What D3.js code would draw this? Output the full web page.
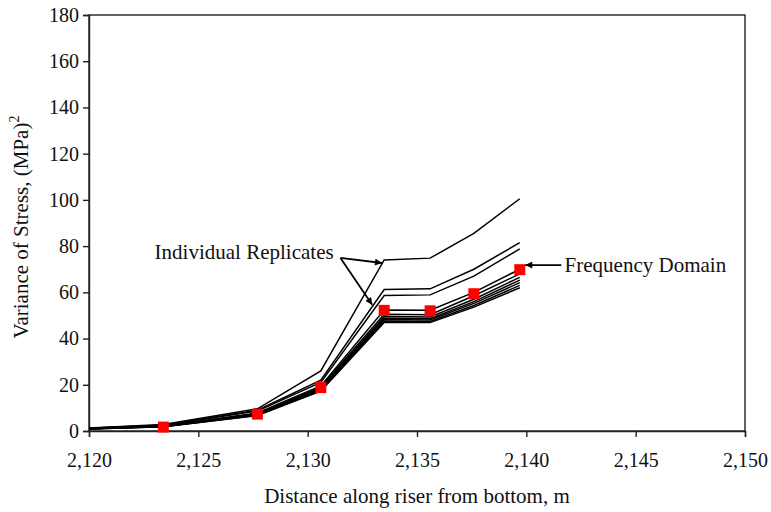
<!DOCTYPE html>
<html>
<head>
<meta charset="utf-8">
<script src="https://cdn.jsdelivr.net/npm/d3@7"></script>
<style>
  body { margin: 0; background: #fff; }
  text { font-family: "Liberation Serif", "Times New Roman", serif; fill: #111; }
  .axis path, .axis line { stroke: #222; stroke-width: 1.4; }
  .axis text { font-size: 20px; }
  .rep { fill: none; stroke: #000; stroke-width: 1.5; }
</style>
</head>
<body>
<div class="chart"></div>
<script>
// distance along riser (m) where replicates are evaluated
var distances = [2120, 2123.4, 2127.7, 2130.6, 2133.5, 2135.6, 2137.6, 2139.7];

// individual replicates, variance of stress (MPa)^2
var rep1 = [1.3, 2.8, 9.6, 26.0, 74.0, 74.8, 85.5, 100.5];
var rep2 = [1.2, 2.6, 9.0, 22.0, 61.2, 61.5, 70.0, 81.5];
var rep3 = [1.2, 2.5, 8.6, 21.0, 58.6, 58.9, 67.0, 78.8];
var rep4 = [1.1, 2.2, 7.8, 19.5, 52.4, 52.3, 60.0, 70.0];
var rep5 = [1.1, 2.1, 7.5, 19.0, 50.5, 50.3, 58.5, 68.0];
var rep6 = [1.0, 2.0, 7.3, 18.5, 49.5, 49.3, 57.0, 66.5];
var rep7 = [1.0, 2.0, 7.1, 18.2, 48.8, 48.6, 56.0, 65.3];
var rep8 = [1.0, 1.9, 7.0, 18.0, 48.2, 48.0, 55.2, 64.2];
var rep9 = [0.9, 1.8, 6.8, 17.6, 47.6, 47.4, 54.3, 63.0];
var rep10 = [0.9, 1.8, 6.7, 17.3, 47.0, 46.9, 53.6, 62.0];
var replicates = [rep1, rep2, rep3, rep4, rep5, rep6, rep7, rep8, rep9, rep10];

// frequency domain result
var freqX = [2123.4, 2127.7, 2130.6, 2133.5, 2135.6, 2137.6, 2139.7];
var freqY = [1.7, 7.3, 18.8, 52.2, 52.0, 59.4, 69.8];

var xTicks = [2120, 2125, 2130, 2135, 2140, 2145, 2150];
var yTicks = [0, 20, 40, 60, 80, 100, 120, 140, 160, 180];

var margin = { top: 15, right: 26, bottom: 81, left: 89 },
    width = 771 - margin.left - margin.right,
    height = 512 - margin.top - margin.bottom;

var svg = d3.select('.chart')
    .append('svg')
    .attr("width", 771)
    .attr("height", 512);

var defs = svg.append("defs");
defs.append("marker")
    .attr("id", "head")
    .attr("viewBox", "0 0 10 10")
    .attr("refX", 10)
    .attr("refY", 5)
    .attr("markerWidth", 10)
    .attr("markerHeight", 7)
    .attr("markerUnits", "userSpaceOnUse")
    .attr("orient", "auto")
    .append("path")
    .attr("d", "M0,0L10,5L0,10z")
    .attr("fill", "#000");

var g = svg.append("g")
    .attr("transform", "translate(" + margin.left + "," + margin.top + ")");

var x = d3.scaleLinear()
    .domain([2120, 2150])
    .range([0, width]);

var y = d3.scaleLinear()
    .domain([0, 180])
    .range([height, 0]);

var xAxis = d3.axisBottom(x)
    .tickValues(xTicks)
    .tickFormat(d3.format(","))
    .tickSizeOuter(0)
    .tickSize(6)
    .tickPadding(16);

var yAxis = d3.axisLeft(y)
    .tickValues(yTicks)
    .tickFormat(d3.format("d"))
    .tickSizeOuter(0)
    .tickSize(6)
    .tickPadding(4);

// frame on top and right
g.append("rect")
    .attr("width", width)
    .attr("height", height)
    .attr("fill", "none")
    .attr("stroke", "#222")
    .attr("stroke-width", 1.4);

g.append("g")
    .attr("class", "axis")
    .attr("transform", "translate(0," + height + ")")
    .call(xAxis);

g.append("g")
    .attr("class", "axis")
    .call(yAxis);

var line = d3.line()
    .x(function(d, i) { return x(distances[i]); })
    .y(function(d) { return y(d); });

g.selectAll(".rep")
    .data(replicates)
    .enter().append("path")
    .attr("class", "rep")
    .attr("d", line);

g.selectAll(".freq")
    .data(freqY)
    .enter().append("rect")
    .attr("class", "freq")
    .attr("x", function(d, i) { return x(freqX[i]) - 5.5; })
    .attr("y", function(d) { return y(d) - 5.5; })
    .attr("width", 11)
    .attr("height", 11)
    .attr("fill", "#f00");

// annotations
g.append("text")
    .attr("x", x(2123.0))
    .attr("y", y(74.6))
    .attr("font-size", "21px")
    .text("Individual Replicates");

var arrows = [
    [2131.5, 74.9, 2133.4, 72.7],
    [2131.5, 74.9, 2132.95, 54.6],
    [2141.6, 71.8, 2139.95, 71.8]
];
g.selectAll(".arrow")
    .data(arrows)
    .enter().append("line")
    .attr("class", "arrow")
    .attr("x1", function(d) { return x(d[0]); })
    .attr("y1", function(d) { return y(d[1]); })
    .attr("x2", function(d) { return x(d[2]); })
    .attr("y2", function(d) { return y(d[3]); })
    .attr("stroke", "#000")
    .attr("stroke-width", 1.8)
    .attr("marker-end", "url(#head)");

g.append("text")
    .attr("x", x(2141.75))
    .attr("y", y(68.7))
    .attr("font-size", "21px")
    .text("Frequency Domain");

// axis titles
g.append("text")
    .attr("x", width / 2)
    .attr("y", height + 72)
    .attr("text-anchor", "middle")
    .attr("font-size", "21px")
    .text("Distance along riser from bottom, m");

var yl = g.append("text")
    .attr("transform", "translate(" + (-61) + "," + (height / 2 + 4) + ") rotate(-90)")
    .attr("text-anchor", "middle")
    .attr("font-size", "21px");
yl.append("tspan").text("Variance of Stress, (MPa)");
yl.append("tspan").attr("dy", -9).attr("font-size", "14px").text("2");
</script>
</body>
</html>
